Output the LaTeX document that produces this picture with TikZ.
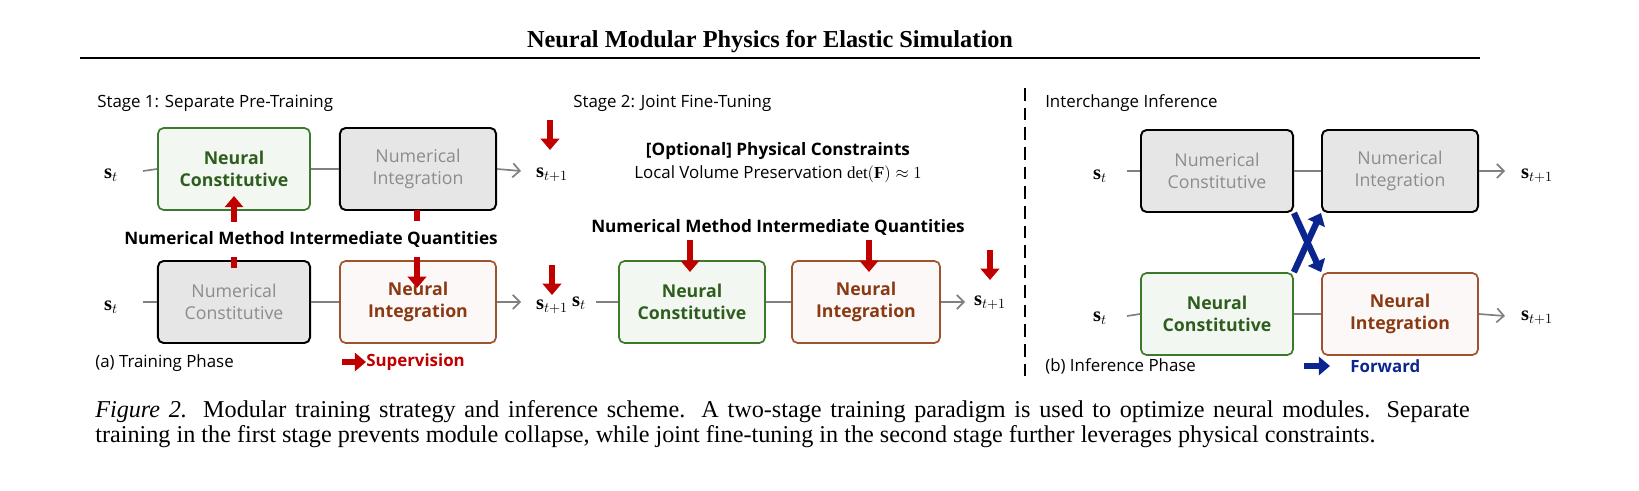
\documentclass[tikz,border=0pt]{standalone}
\usepackage{fontspec}
\setmainfont{Liberation Serif}
\setsansfont{Open Sans}
\usetikzlibrary{arrows.meta,positioning}
\definecolor{nngreen}{HTML}{3A7A2A}
\definecolor{nngreentext}{HTML}{2E5E1E}
\definecolor{nnbrown}{HTML}{A0522D}
\definecolor{nnbrowntext}{HTML}{8A3A12}
\definecolor{numgray}{HTML}{E6E6E6}
\definecolor{numtext}{HTML}{8C8C8C}
\definecolor{supred}{HTML}{C00000}
\definecolor{fwdblue}{HTML}{0B2590}
\tikzset{
  box/.style={draw,rounded corners=4pt,minimum width=3.8cm,minimum height=2.05cm,
    align=center,font=\sffamily\fontsize{12.6}{16}\selectfont},
  numbox/.style={box,fill=numgray,draw=black,line width=1.4pt,text=numtext},
  cnbox/.style={box,fill=nngreen!6,draw=nngreen,line width=1.2pt,text=nngreentext,font=\sffamily\bfseries\fontsize{12.6}{16}\selectfont},
  inbox/.style={box,fill=nnbrown!4,draw=nnbrown,line width=1.2pt,text=nnbrowntext,font=\sffamily\bfseries\fontsize{12.6}{16}\selectfont},
  state/.style={inner sep=1pt,font=\fontsize{14.5}{16}\selectfont},
  flow/.style={draw=gray,line width=1.2pt},
  flowout/.style={flow,-{Straight Barb[length=5pt,width=10pt]}},
  sup/.style={draw=supred,line width=4.5pt,-{Triangle[length=8pt,width=13pt]}},
  fwd/.style={draw=fwdblue,line width=4.5pt,-{Triangle[length=8pt,width=13pt]}},
  lbl/.style={anchor=west,inner sep=0pt,font=\sffamily\fontsize{12}{14}\selectfont},
  iq/.style={inner sep=1pt,font=\sffamily\bfseries\fontsize{12.2}{14}\selectfont}
}
\begin{document}
\begin{tikzpicture}[x=0.025cm,y=-0.025cm]
% Title
\node[font=\bfseries\fontsize{17.3}{20}\selectfont] (title) at (770,42) {Neural Modular Physics for Elastic Simulation};
\draw[line width=1.2pt] (80,58) -- (1480,58);

% Stage 1
\node[lbl] (stage1) at (97,103) {Stage 1: Separate Pre-Training};
\node[cnbox] (nc1) at (234,169) {Neural\\Constitutive};
\node[numbox,minimum width=3.9cm] (ni1) at (418,169) {Numerical\\Integration};
\node[state] (st1) at (111,175) {$\mathbf{s}_t$};
\node[state] (sn1) at (552,175) {$\mathbf{s}_{t+1}$};
\draw[flow] (143,171) -- (nc1.west);
\draw[flow] (nc1.east) -- (ni1.west);
\draw[flowout] (ni1.east) -- (521,171);
\node[iq] (iq1) at (311,239) {Numerical Method Intermediate Quantities};
\node[numbox] (nc2) at (234,302) {Numerical\\Constitutive};
\node[inbox,minimum width=3.9cm] (ni2) at (418,302) {Neural\\Integration};
\node[state] (st2) at (111,307) {$\mathbf{s}_t$};
\node[state] (sn2) at (552,307) {$\mathbf{s}_{t+1}$};
\draw[flow] (143,302) -- (nc2.west);
\draw[flow] (nc2.east) -- (ni2.west);
\draw[flowout] (ni2.east) -- (521,302);
% supervision
\draw[supred,line width=4.5pt] (234,257) -- (234,268);
\draw[sup] (234,222) -- (234,196);
\draw[supred,line width=4.5pt] (417,210) -- (417,221);
\draw[sup] (417,257) -- (417,288);
\draw[sup] (550,120) -- (550,150);
\draw[sup] (552,265) -- (552,295);
\node[lbl] (phasea) at (95,363) {(a) Training Phase};
\draw[sup] (342,362) -- (366,362);
\node[lbl,text=supred,font=\sffamily\bfseries\fontsize{12}{14}\selectfont] (suplbl) at (366,362) {Supervision};

% Stage 2
\node[lbl] (stage2) at (573,103) {Stage 2: Joint Fine-Tuning};
\node[iq] (opt) at (778,151) {[Optional] Physical Constraints};
\node[font=\sffamily\fontsize{12}{14}\selectfont] (vol) at (778,174) {Local Volume Preservation $\det(\mathbf{F})\approx 1$};
\node[iq] (iq2) at (778,227) {Numerical Method Intermediate Quantities};
\node[cnbox,minimum width=3.65cm] (nc3) at (692,302) {Neural\\Constitutive};
\node[inbox,minimum width=3.7cm] (ni3) at (866,302) {Neural\\Integration};
\node[state] (st3) at (579,303) {$\mathbf{s}_t$};
\node[state] (sn3) at (990,303) {$\mathbf{s}_{t+1}$};
\draw[flow] (596,302) -- (nc3.west);
\draw[flow] (nc3.east) -- (ni3.west);
\draw[flowout] (ni3.east) -- (965,302);
\draw[sup] (690,240) -- (690,272);
\draw[sup] (869,240) -- (869,272);
\draw[sup] (990,250) -- (990,280);

% divider
\draw[line width=1.3pt,dash pattern=on 9pt off 5pt] (1025,88) -- (1025,380);

% Interchange
\node[lbl] (stage3) at (1045,103) {Interchange Inference};
\node[numbox] (nc4) at (1217,171) {Numerical\\Constitutive};
\node[numbox,minimum width=3.9cm] (ni4) at (1400,171) {Numerical\\Integration};
\node[cnbox] (nc5) at (1217,314) {Neural\\Constitutive};
\node[inbox,minimum width=3.9cm] (ni5) at (1400,314) {Neural\\Integration};
\node[state] (st4) at (1100,176) {$\mathbf{s}_t$};
\node[state] (st5) at (1100,318) {$\mathbf{s}_t$};
\node[state] (sn4) at (1537,176) {$\mathbf{s}_{t+1}$};
\node[state] (sn5) at (1537,318) {$\mathbf{s}_{t+1}$};
\draw[flow] (1127,171) -- (nc4.west);
\draw[flow] (nc4.east) -- (ni4.west);
\draw[flowout] (ni4.east) -- (1505,171);
\draw[flow] (1127,316) -- (nc5.west);
\draw[flow] (nc5.east) -- (ni5.west);
\draw[flowout] (ni5.east) -- (1505,316);
\draw[fwd] (nc4.south east) -- (ni5.north west);
\draw[fwd] (nc5.north east) -- (ni4.south west);
\node[lbl] (phaseb) at (1045,366) {(b) Inference Phase};
\draw[fwd] (1304,366) -- (1330,366);
\node[lbl,text=fwdblue,font=\sffamily\bfseries\fontsize{12}{14}\selectfont] (fwdlbl) at (1350,366) {Forward};

% Caption
\node[anchor=north west,inner sep=0pt,text width=34.35cm,align=justify,
  font=\fontsize{17.2}{17.8}\selectfont] (cap) at (95,400)
  {\textit{Figure 2.} Modular training strategy and inference scheme. A two-stage training paradigm is used to optimize neural modules. Separate\linebreak training in the first stage prevents module collapse, while joint fine-tuning in the second stage further leverages physical constraints.};
\pgfresetboundingbox
\useasboundingbox (0,0) rectangle (1639,491);
\end{tikzpicture}
\end{document}
